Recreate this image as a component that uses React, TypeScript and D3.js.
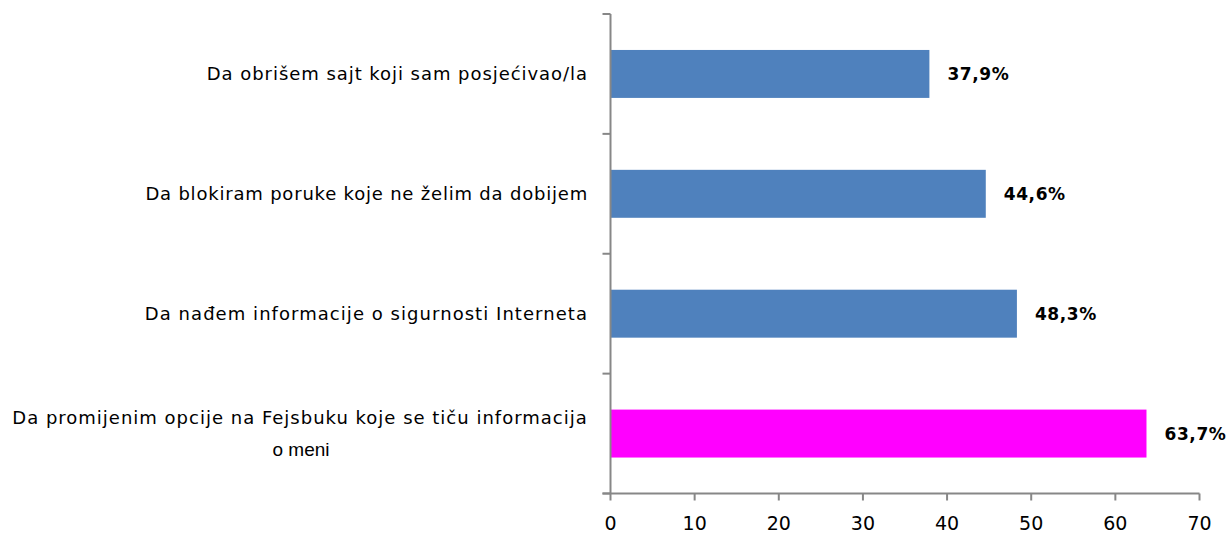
import React from "react";
import * as d3 from "d3";

const categories: string[][] = [
  ["Da obrišem sajt koji sam posjećivao/la"],
  ["Da blokiram poruke koje ne želim da dobijem"],
  ["Da nađem informacije o sigurnosti Interneta"],
  ["Da promijenim opcije na Fejsbuku koje se tiču informacija", "o meni"],
];
const values: number[] = [37.9, 44.6, 48.3, 63.7];
const valueLabels: string[] = ["37,9%", "44,6%", "48,3%", "63,7%"];
const barColors: string[] = ["#4F81BD", "#4F81BD", "#4F81BD", "#FF00FF"];
const labelSpacing: number[] = [0.95, 0.8, 1.05, 1.0];
const xTicks: number[] = [0, 10, 20, 30, 40, 50, 60, 70];

const W = 1232;
const H = 535;

export default function App() {
  const keys = categories.map((c, i) => String(i));
  const y = d3.scaleBand<string>().domain(keys).range([14, 493.5]).paddingInner(0.6).paddingOuter(0.3);
  const x = d3.scaleLinear().domain([0, 70]).range([610.5, 1199.5]);
  const step = y.step();
  const yTickPos = d3.range(keys.length + 1).map((i) => 14 + i * step);
  const axisColor = "#878787";
  const x0 = x(0);
  const yBottom = 493.5;

  return (
    <svg width={W} height={H} style={{ position: "absolute", left: 0, top: 0, background: "#fff" }}>
      {values.map((v, i) => (
        <rect
          key={"b" + i}
          x={x(0)}
          y={y(keys[i])!}
          width={x(v) - x(0)}
          height={y.bandwidth()}
          fill={barColors[i]}
        />
      ))}
      {values.map((v, i) => (
        <text
          key={"v" + i}
          x={x(v) + 18}
          y={y(keys[i])! + y.bandwidth() / 2}
          dy="0.35em"
          fontFamily="DejaVu Sans"
          fontWeight="bold"
          fontSize={17}
          letterSpacing={0.6}
          fill="#000"
        >
          {valueLabels[i]}
        </text>
      ))}
      <line x1={x0} x2={x0} y1={14} y2={yBottom} stroke={axisColor} strokeWidth={2} />
      {yTickPos.map((p, i) => (
        <line key={"yt" + i} x1={x0 - 8} x2={x0} y1={p} y2={p} stroke={axisColor} strokeWidth={2} />
      ))}
      <line x1={x0 - 8} x2={x(70)} y1={yBottom} y2={yBottom} stroke={axisColor} strokeWidth={2} />
      {xTicks.map((t) => (
        <g key={"xt" + t}>
          <line x1={x(t)} x2={x(t)} y1={yBottom} y2={yBottom + 7} stroke={axisColor} strokeWidth={2} />
          <text
            x={x(t)}
            y={523}
            dy="0.35em"
            textAnchor="middle"
            fontFamily="DejaVu Sans"
            fontSize={19}
            fill="#000"
          >
            {t}
          </text>
        </g>
      ))}
      {categories.map((lines, i) => {
        const cy = y(keys[i])! + y.bandwidth() / 2;
        const lh = 31;
        const startY = cy - ((lines.length - 1) * lh) / 2;
        const style = { fontFamily: "DejaVu Sans", fontSize: 18, letterSpacing: labelSpacing[i] };
        if (lines.length === 1) {
          return (
            <text key={"c" + i} x={588} y={startY} dy="0.35em" textAnchor="end" style={style} fill="#000">
              {lines[0]}
            </text>
          );
        }
        return (
          <g key={"c" + i}>
            <text x={300} y={startY} dy="0.35em" textAnchor="middle" style={style} fill="#000">
              {lines[0]}
            </text>
            <text
              x={301}
              y={startY + lh}
              dy="0.35em"
              textAnchor="middle"
              fontFamily="Liberation Sans"
              fontSize={19}
              fill="#000"
            >
              {lines[1]}
            </text>
          </g>
        );
      })}
    </svg>
  );
}
